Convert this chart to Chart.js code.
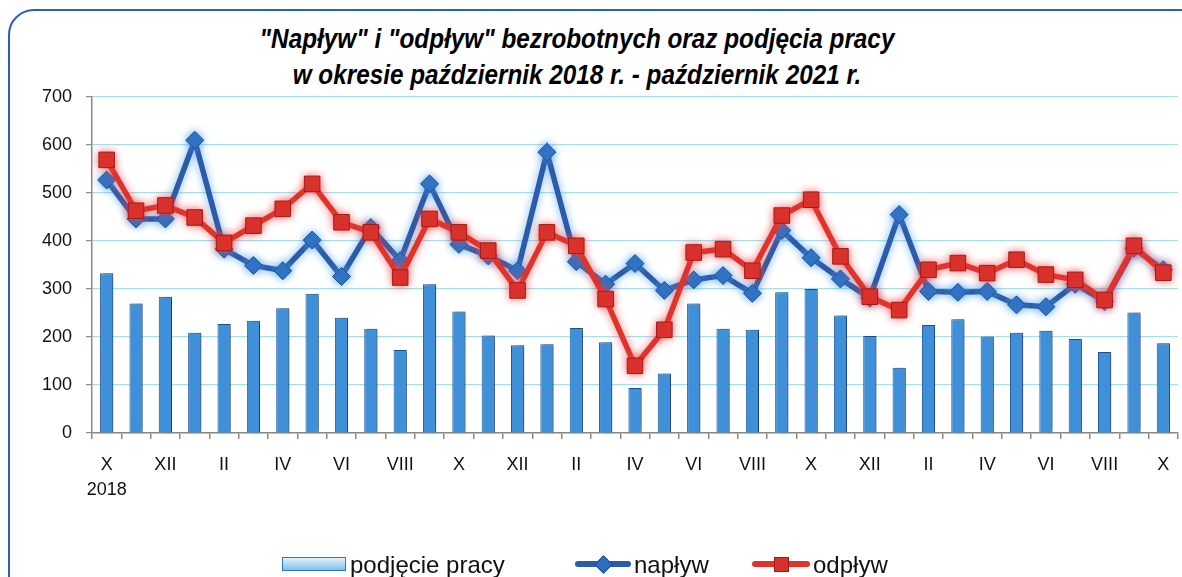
<!DOCTYPE html>
<html>
<head>
<meta charset="utf-8">
<script src="https://cdn.jsdelivr.net/npm/chart.js@4"></script>
<style>
  body { margin: 0; background: #fff; overflow: hidden; width: 1182px; height: 577px; position: relative; }
  #ramka { position: absolute; left: 8px; top: 9px; width: 1200px; height: 620px; border: 2px solid #2a62b0; border-radius: 26px; }
  #wykres { position: absolute; left: 0; top: 0; }
  .tytul { position: absolute; left: 0; width: 1154px; text-align: center; font-family: 'Liberation Sans', sans-serif; font-weight: bold; font-style: italic; font-size: 27px; color: #000; transform: scaleX(0.9); transform-origin: 577px 0; }
  .leg { position: absolute; top: 551px; font-family: 'Liberation Sans', sans-serif; font-size: 24px; color: #111; white-space: nowrap; }
  .ikona { position: absolute; }
</style>
</head>
<body>
<div id="ramka"></div>
<div class="tytul" style="top:24px">"Napływ" i "odpływ" bezrobotnych oraz podjęcia pracy</div>
<div class="tytul" style="top:60px">w okresie październik 2018 r. - październik 2021 r.</div>
<canvas id="wykres" width="1190" height="577"></canvas>

<div class="ikona" style="left:282px;top:557px;width:62px;height:12px;border:1px solid #2f78c0;background:linear-gradient(#e2f2fc,#7fc0ee);"></div>
<div class="leg" style="left:350px">podjęcie pracy</div>

<div class="ikona" style="left:575px;top:561px;width:56px;height:6px;background:#2b5cab;border-radius:3px;"></div>
<div class="ikona" style="left:597px;top:558px;width:11px;height:11px;background:#2f6fc0;border:1px solid #1d4f94;transform:rotate(45deg);"></div>
<div class="leg" style="left:634px">napływ</div>

<div class="ikona" style="left:752px;top:561px;width:58px;height:6px;background:#e0332b;border-radius:3px;"></div>
<div class="ikona" style="left:774px;top:557px;width:13px;height:13px;background:#d8302a;border:1px solid #a01818;"></div>
<div class="leg" style="left:813px">odpływ</div>

<script>
// miesiące: październik 2018 - październik 2021
const miesiace = ['X','XI','XII','I','II','III','IV','V','VI','VII','VIII','IX',
                  'X','XI','XII','I','II','III','IV','V','VI','VII','VIII','IX',
                  'X','XI','XII','I','II','III','IV','V','VI','VII','VIII','IX','X'];
const rokPoczatkowy = '2018';

const podjeciePracy = [333,270,284,209,227,234,260,290,240,217,173,310,
                       253,203,183,185,219,189,94,124,270,217,215,293,
                       300,245,202,136,225,237,201,209,213,196,169,251,187];
const naplyw = [527,446,446,610,383,349,338,402,326,428,359,519,
                393,369,338,585,357,310,353,297,319,328,291,422,
                365,321,281,455,295,293,295,267,263,310,274,385,340];
const odplyw = [569,463,474,449,396,432,467,519,439,418,324,446,
                418,380,297,418,390,279,140,215,376,383,338,453,
                486,368,284,256,340,354,333,361,330,319,277,390,334];

const yTicks = [0,100,200,300,400,500,600,700];

// poświata pod liniami i cień pod słupkami
const poswiata = {
  id: 'poswiata',
  beforeDatasetDraw(chart, args) {
    const ds = chart.data.datasets[args.index];
    const ctx = chart.ctx;
    ctx.save();
    ctx.shadowColor = ds.cien.kolor;
    ctx.shadowBlur = ds.cien.blur;
    ctx.shadowOffsetX = ds.cien.dx;
    ctx.shadowOffsetY = ds.cien.dy;
  },
  afterDatasetDraw(chart) {
    chart.ctx.restore();
  }
};

const etykiety = miesiace.map((m, i) => i === 0 ? [m, rokPoczatkowy] : m);

new Chart(document.getElementById('wykres'), {
  type: 'bar',
  data: {
    labels: etykiety,
    datasets: [
      {
        type: 'line', label: 'odpływ', data: odplyw, order: 0,
        borderColor: '#e0332b', borderWidth: 5.5, tension: 0,
        pointStyle: 'rect', pointRadius: 11, pointHoverRadius: 11,
        pointBackgroundColor: '#d8302a', pointBorderColor: '#a51a18', pointBorderWidth: 1,
        cien: { kolor: 'rgba(240,70,70,0.75)', blur: 9, dx: 0, dy: 0 }
      },
      {
        type: 'line', label: 'napływ', data: naplyw, order: 1,
        borderColor: '#2b5cab', borderWidth: 5.5, tension: 0,
        pointStyle: 'rectRot', pointRadius: 9, pointHoverRadius: 9,
        pointBackgroundColor: '#2f6fc0', pointBorderColor: '#1d4f94', pointBorderWidth: 1,
        cien: { kolor: 'rgba(80,160,235,0.8)', blur: 9, dx: 0, dy: 0 }
      },
      {
        label: 'podjęcie pracy', data: podjeciePracy, order: 2,
        backgroundColor: '#3f90d8', borderColor: '#1d5a99', borderWidth: 1,
        barPercentage: 0.45, categoryPercentage: 1,
        cien: { kolor: 'rgba(0,0,0,0.35)', blur: 4, dx: 4, dy: 0 }
      }
    ]
  },
  options: {
    responsive: false,
    animation: false,
    layout: { padding: { top: 97, right: 4, bottom: 64, left: 0 } },
    plugins: {
      legend: { display: false },
      title: { display: false },
      tooltip: { enabled: false }
    },
    scales: {
      x: {
        offset: true,
        afterFit: s => { s.height = 80; },
        grid: { offset: true, drawOnChartArea: false, tickLength: 6, color: '#8a8a8a', lineWidth: 1.5 },
        border: { color: '#8a8a8a', width: 1.5 },
        ticks: {
          autoSkip: false, maxRotation: 0, padding: 13, color: '#111',
          font: { family: 'Liberation Sans', size: 18, lineHeight: 1.4 },
          callback: function (v, i) { return i % 2 === 0 ? this.getLabelForValue(v) : ''; }
        }
      },
      y: {
        min: 0, max: 700,
        afterFit: s => { s.width = 92; },
        afterBuildTicks: s => { s.ticks = yTicks.map(v => ({ value: v })); },
        grid: { color: '#a9def2', lineWidth: 1.2, tickColor: '#8a8a8a', tickLength: 6 },
        border: { color: '#8a8a8a', width: 1.5 },
        ticks: { padding: 14, color: '#111', font: { family: 'Liberation Sans', size: 18 } }
      }
    }
  },
  plugins: [poswiata]
});
</script>
</body>
</html>
